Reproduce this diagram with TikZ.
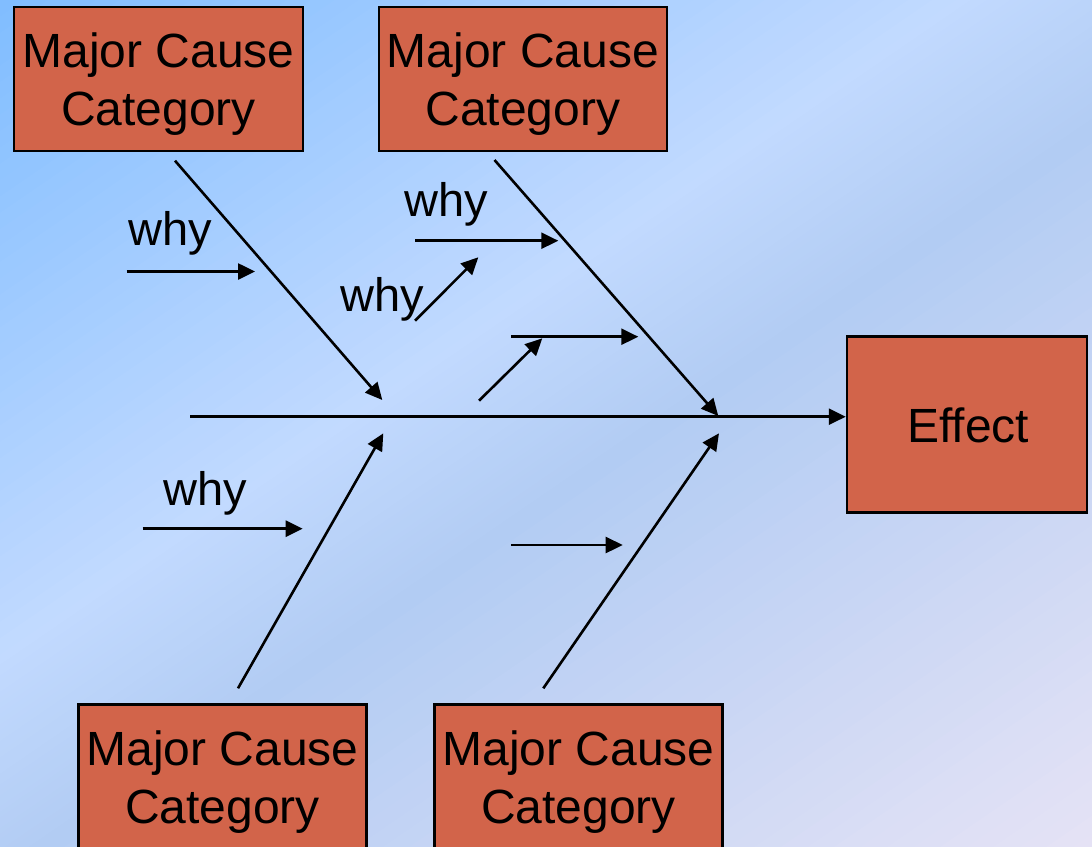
\documentclass[tikz,border=0pt]{standalone}
\usepackage{fontspec}
\setmainfont{Liberation Sans}
\usetikzlibrary{arrows.meta}

\definecolor{boxred}{HTML}{D2644A}
\definecolor{skyA}{HTML}{80BDFF}
\definecolor{skyB}{HTML}{C2DAFF}
\definecolor{skyC}{HTML}{B2CCF3}
\definecolor{skyD}{HTML}{E6E3F5}

% One band of the diagonal background: strips from #1 to #2 (distance along
% the gradient axis), blending colour #3 into colour #4.
\newcommand\skyband[4]{%
  \foreach \k in {0,...,39}{%
    \pgfmathsetmacro\skyW{(#2-#1)/40}%
    \pgfmathsetmacro\skyT{#1+\skyW*\k}%
    \pgfmathsetmacro\skyU{\skyT+\skyW+1.5}%
    \pgfmathtruncatemacro\skyP{100*(\k+0.5)/40}%
    \fill[#4!\skyP!#3]
      ({\skyT*0.565-990},{\skyT*0.825+678}) --
      ({\skyT*0.565+990},{\skyT*0.825-678}) --
      ({\skyU*0.565+990},{\skyU*0.825-678}) --
      ({\skyU*0.565-990},{\skyU*0.825+678}) -- cycle;
  }%
}

\begin{document}
\begin{tikzpicture}[x=1pt,y=-1pt,
  box/.style={draw=black, line width=2.5pt, fill=boxred, rectangle,
    inner sep=0pt},
  boxtext/.style={inner sep=0pt, align=center,
    font=\fontsize{48}{58}\selectfont},
  whytext/.style={inner sep=0pt, anchor=base west,
    font=\fontsize{47}{56}\selectfont},
  arr/.style={line width=2.6pt, -{Triangle[length=17pt,width=16pt]}}
]
\useasboundingbox (0,0) rectangle (1092,846);

% background gradient
\begin{scope}
  \clip (0,0) rectangle (1092,846);
  \skyband{0}{540}{skyA}{skyB}
  \skyband{540}{720}{skyB}{skyC}
  \skyband{720}{1320}{skyC}{skyD}
\end{scope}

% cause category boxes and the effect box
\node[box, minimum width=289pt, minimum height=144pt] (c1) at (158.5,79) {};
\node[box, minimum width=288pt, minimum height=144pt] (c2) at (523,79) {};
\node[box, minimum width=288pt, minimum height=144pt] (c3) at (222.5,776.3) {};
\node[box, minimum width=288pt, minimum height=144pt] (c4) at (578.5,776.3) {};
\node[box, minimum width=240pt, minimum height=176pt] (eff) at (967,424.7) {};

\node[boxtext] (t1) at ([yshift=-4.6pt]c1.center) {Major Cause\\Category};
\node[boxtext] (t2) at ([yshift=-4.6pt]c2.center) {Major Cause\\Category};
\node[boxtext] (t3) at ([yshift=-5.7pt]c3.center) {Major Cause\\Category};
\node[boxtext] (t4) at ([yshift=-5.7pt]c4.center) {Major Cause\\Category};
\node[inner sep=0pt, anchor=base, font=\fontsize{48}{58}\selectfont]
  (te) at (968.3,442.7) {Effect};

% spine
\coordinate (s0) at (190,416.7);
\draw[arr] (s0) -- (s0 -| eff.west);

% bones
\coordinate (b1s) at (175,160.7);  \coordinate (b1e) at (382.3,400);
\coordinate (b2s) at (494.5,160);  \coordinate (b2e) at (718.3,416);
\coordinate (b3s) at (238,688.3);  \coordinate (b3e) at (383.3,433.3);
\coordinate (b4s) at (543.3,688.3);\coordinate (b4e) at (719,433.3);
\draw[arr] (b1s) -- (b1e);
\draw[arr] (b2s) -- (b2e);
\draw[arr] (b3s) -- (b3e);
\draw[arr] (b4s) -- (b4e);

% "why" arrows
\coordinate (w1s) at (126.7,271.5); \coordinate (w1e) at (255,271.5);
\coordinate (w2s) at (415,240.7);   \coordinate (w2e) at (558.3,240.7);
\coordinate (w3s) at (415,320.7);   \coordinate (w3e) at (478.3,257.3);
\coordinate (w4s) at (511,336.7);   \coordinate (w4e) at (638.3,336.7);
\coordinate (w5s) at (479,400.7);   \coordinate (w5e) at (542.3,338.3);
\coordinate (w6s) at (142.7,528.7); \coordinate (w6e) at (302.7,528.7);
\coordinate (w7s) at (511,545);     \coordinate (w7e) at (622.7,545);
\foreach \i in {1,...,7}{\draw[arr] (w\i s) -- (w\i e);}

% labels
\node[whytext] (q1) at (128,245) {why};
\node[whytext] (q2) at (404.5,216.7) {why};
\node[whytext] (q3) at (340.5,311.7) {why};
\node[whytext] (q4) at (163,505) {why};
\end{tikzpicture}
\end{document}
